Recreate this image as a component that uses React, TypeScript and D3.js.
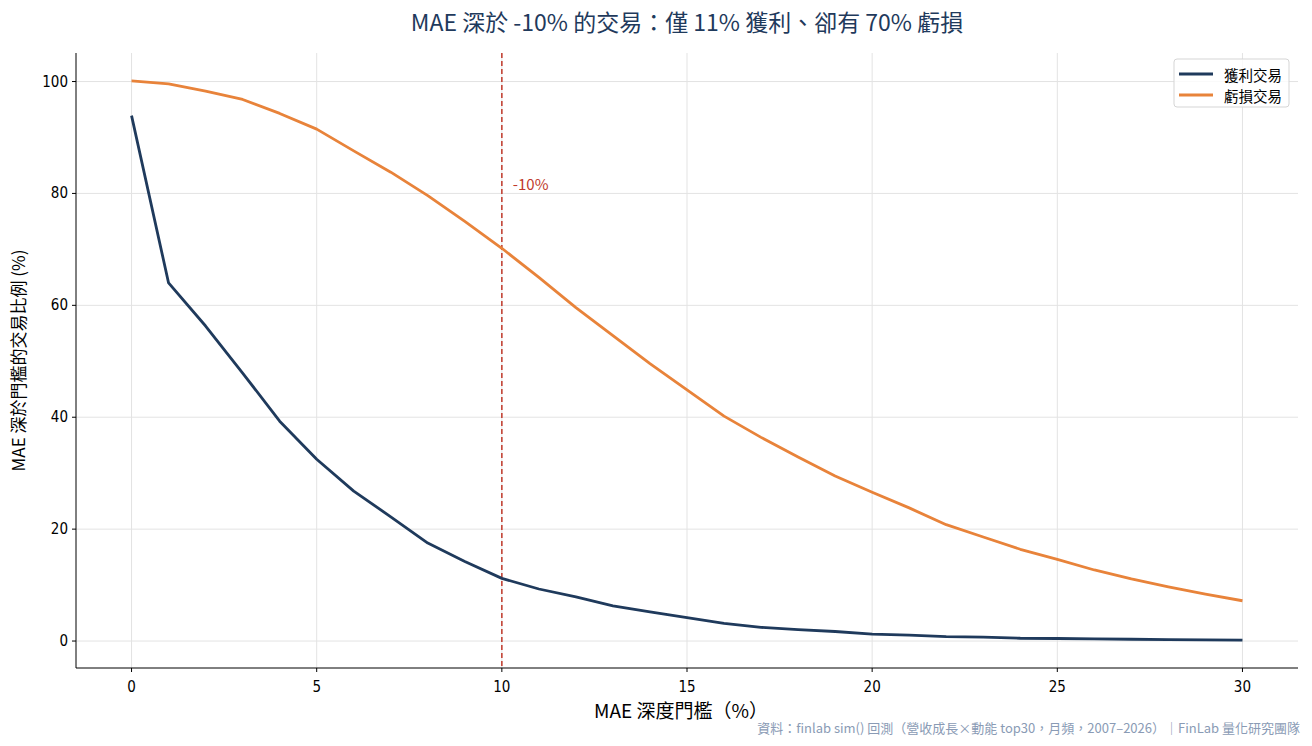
import React from "react";
import * as d3 from "d3";

const thresholds = d3.range(0, 31);
const profitPct = [93.9, 64.0, 56.3, 47.9, 39.3, 32.5, 26.8, 22.2, 17.5, 14.2, 11.2, 9.3, 7.9, 6.3, 5.2, 4.2, 3.15, 2.45, 2.05, 1.7, 1.25, 1.05, 0.8, 0.7, 0.5, 0.45, 0.38, 0.32, 0.26, 0.21, 0.18];
const lossPct = [100.1, 99.6, 98.3, 96.8, 94.3, 91.5, 87.6, 83.8, 79.6, 75.0, 70.2, 65.0, 59.6, 54.6, 49.6, 44.9, 40.2, 36.4, 32.9, 29.5, 26.6, 23.8, 20.8, 18.6, 16.4, 14.6, 12.7, 11.1, 9.7, 8.4, 7.2];
const xTicks = [0, 5, 10, 15, 20, 25, 30];
const yTicks = [0, 20, 40, 60, 80, 100];
const seriesNames = ["獲利交易", "虧損交易"];
const seriesColors = ["#1f3a5c", "#e8833a"];
const cutoff = 10;

const W = 1312, H = 746;
const M = { left: 76, right: 1298, top: 53, bottom: 668 };
const CJK = "'Noto Sans CJK TC', 'Noto Sans', sans-serif";
const TICK = "'DejaVu Sans Condensed', 'DejaVu Sans', sans-serif";

export default function App() {
  const x = d3.scaleLinear().domain([-1.5, 31.5]).range([M.left, M.right]);
  const y = d3.scaleLinear().domain([-4.82, 105.1]).range([M.bottom, M.top]);
  const line = d3.line<number>().x((_, i) => x(thresholds[i])).y((d) => y(d));
  const series = [profitPct, lossPct];
  return (
    <svg width={W} height={H} style={{ position: "absolute", left: 0, top: 0, background: "#fff" }}>
      <rect width={W} height={H} fill="#fff" />
      {xTicks.map((t) => (
        <line key={"gx" + t} x1={x(t)} x2={x(t)} y1={M.top} y2={M.bottom} stroke="#e3e3e3" strokeWidth={1} />
      ))}
      {yTicks.map((t) => (
        <line key={"gy" + t} x1={M.left} x2={M.right} y1={y(t)} y2={y(t)} stroke="#e3e3e3" strokeWidth={1} />
      ))}
      <line x1={x(cutoff)} x2={x(cutoff)} y1={M.top} y2={M.bottom} stroke="#c0392b" strokeWidth={1.5} strokeDasharray="5,3" />
      {series.map((s, i) => (
        <path key={i} d={line(s) || ""} fill="none" stroke={seriesColors[i]} strokeWidth={2.8} strokeLinejoin="round" />
      ))}
      <text x={x(cutoff) + 11} y={186} fontFamily={CJK} fontSize={15} fill="#c0392b" dominantBaseline="middle">-10%</text>
      <line x1={M.left} x2={M.left} y1={M.top} y2={M.bottom} stroke="#000" strokeWidth={1} />
      <line x1={M.left} x2={M.right} y1={M.bottom} y2={M.bottom} stroke="#000" strokeWidth={1} />
      {xTicks.map((t) => (
        <g key={"tx" + t}>
          <line x1={x(t)} x2={x(t)} y1={M.bottom} y2={M.bottom + 4} stroke="#000" />
          <text x={x(t)} y={M.bottom + 24} textAnchor="middle" fontFamily={TICK} fontSize={15} fill="#000">{t}</text>
        </g>
      ))}
      {yTicks.map((t) => (
        <g key={"ty" + t}>
          <line x1={M.left - 4} x2={M.left} y1={y(t)} y2={y(t)} stroke="#000" />
          <text x={M.left - 8} y={y(t)} textAnchor="end" dominantBaseline="central" fontFamily={TICK} fontSize={15} fill="#000">{t}</text>
        </g>
      ))}
      <text x={687} y={31} textAnchor="middle" fontFamily={CJK} fontSize={23} fill="#1f3a5c">MAE 深於 -10% 的交易：僅 11% 獲利、卻有 70% 虧損</text>
      <text x={681} y={718} textAnchor="middle" fontFamily={CJK} fontSize={19} fill="#000">MAE 深度門檻（%）</text>
      <text transform={`translate(25, ${(M.top + M.bottom) / 2}) rotate(-90)`} textAnchor="middle" fontFamily={CJK} fontSize={17} fill="#000">MAE 深於門檻的交易比例 (%)</text>
      <text x={1300} y={733} textAnchor="end" fontFamily={CJK} fontSize={13} fill="#8a9bb5">資料：finlab sim() 回測（營收成長×動能 top30，月頻，2007–2026）｜FinLab 量化研究團隊</text>
      <g>
        <rect x={1174} y={59} width={115} height={48} rx={3} fill="#fff" fillOpacity={0.8} stroke="#d5d5d5" />
        {seriesNames.map((n, i) => (
          <g key={n}>
            <line x1={1179} x2={1213} y1={74 + i * 21} y2={74 + i * 21} stroke={seriesColors[i]} strokeWidth={2.8} />
            <text x={1224} y={74 + i * 21} dominantBaseline="central" fontFamily={CJK} fontSize={14.5} fill="#000">{n}</text>
          </g>
        ))}
      </g>
    </svg>
  );
}
